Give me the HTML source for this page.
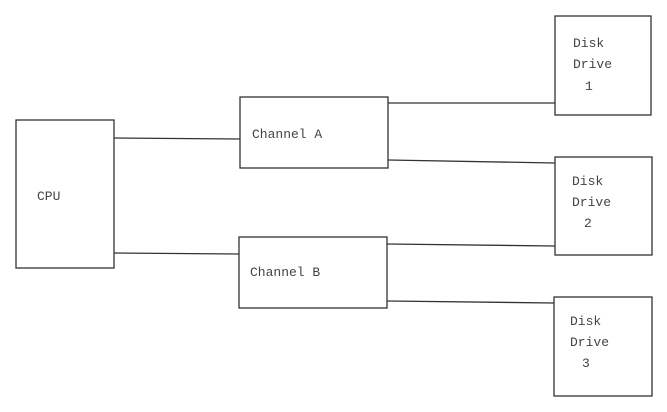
<!DOCTYPE html>
<html><head><style>
body{margin:0;background:#fff;}
</style></head><body>
<svg width="667" height="412" xmlns="http://www.w3.org/2000/svg" style="display:block">
<g fill="none" stroke="#333" stroke-width="1.3">
<rect x="16" y="120" width="98" height="148"/>
<rect x="240" y="97" width="148" height="71"/>
<rect x="239" y="237" width="148" height="71"/>
<rect x="555" y="16" width="96" height="99"/>
<rect x="555" y="157" width="97" height="98"/>
<rect x="554" y="297" width="98" height="99"/>
<line x1="114" y1="138" x2="240" y2="139"/>
<line x1="114" y1="253" x2="239" y2="254"/>
<line x1="388" y1="103" x2="555" y2="103"/>
<line x1="388" y1="160" x2="555" y2="163"/>
<line x1="387" y1="244" x2="555" y2="246"/>
<line x1="387" y1="301" x2="554" y2="303"/>
</g>
<g font-family="Liberation Mono, monospace" font-size="13" fill="#444">
<text x="37" y="200">CPU</text>
<text x="252" y="138">Channel A</text>
<text x="250" y="276">Channel B</text>
<text x="573" y="47">Disk</text><text x="573" y="68">Drive</text><text x="585" y="90">1</text>
<text x="572" y="185">Disk</text><text x="572" y="206">Drive</text><text x="584" y="227">2</text>
<text x="570" y="325">Disk</text><text x="570" y="346">Drive</text><text x="582" y="367">3</text>
</g>
</svg>
</body></html>
